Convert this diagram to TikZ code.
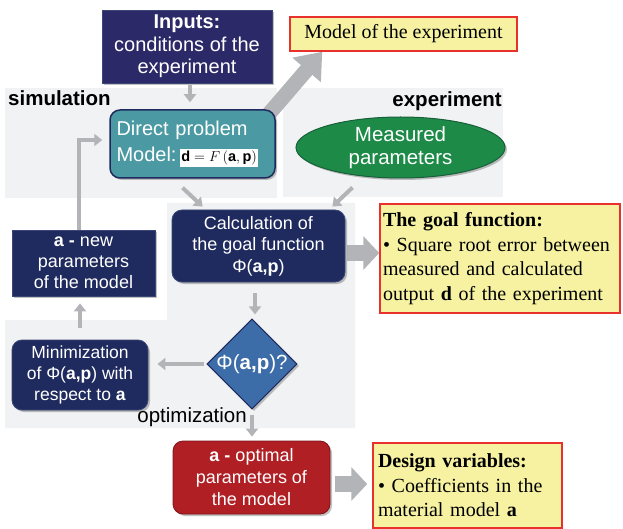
\documentclass[tikz,border=0pt]{standalone}
\usepackage{fontspec}
\setmainfont{Liberation Sans}
\newfontfamily\yellowfont{Liberation Serif}
\usetikzlibrary{shapes.geometric,arrows.meta,shadows,backgrounds}
\definecolor{inputsfill}{HTML}{2C2968}
\definecolor{navyfill}{HTML}{1F2B5E}
\definecolor{navyline}{HTML}{3A4676}
\definecolor{tealfill}{HTML}{4B9AA3}
\definecolor{measgreen}{HTML}{1D8B47}
\definecolor{greenline}{HTML}{17603A}
\definecolor{diamblue}{HTML}{3D6DA8}
\definecolor{optred}{HTML}{B01F24}
\definecolor{redline}{HTML}{E8302C}
\definecolor{yellowfill}{HTML}{F6F2A2}
\definecolor{arrowgray}{HTML}{B3B4B7}
\definecolor{regiongray}{HTML}{F1F2F3}
\newcommand{\mathpart}[1]{{\setlength{\fboxsep}{1.5pt}\colorbox{white}{\color{black}\fontsize{14.5}{15}\selectfont$#1$}}}

\begin{document}
\begin{tikzpicture}[x=1pt,y=-1pt,
  boxshadow/.style={drop shadow={shadow xshift=2pt,shadow yshift=-2pt,opacity=0.35,fill=black!70}},
  navybox/.style={fill=navyfill, draw=navyline, line width=0.8pt, text=white, rounded corners=10pt,
    align=center, inner sep=0pt, boxshadow},
  yellowbox/.style={fill=yellowfill, draw=redline, line width=1.5pt, text=black, inner sep=0pt,
    font=\yellowfont\fontsize{20}{24.5}\selectfont},
  sidelabel/.style={inner sep=0pt, font=\fontsize{20.5}{22}\selectfont},
  thinarrow/.style={draw=arrowgray, line width=4pt, -{Triangle[length=8pt,width=12pt]}},
  fatarrow/.style={draw=arrowgray, line width=16pt, -{Triangle[length=16pt,width=33pt]}}
]
\useasboundingbox (0,0) rectangle (623,529);

% boxes
\node[fill=inputsfill, draw=navyline, line width=0.8pt, text=white, align=center, inner sep=0pt,
  minimum width=170, minimum height=73, boxshadow, font=\fontsize{20}{22.5}\selectfont]
  (inputs) at (187,46.5) {\textbf{Inputs:}\\conditions of the\\experiment};
\node[yellowbox, minimum width=227, minimum height=34] (modelexp) at (403.5,34) {Model of the experiment};
\node[fill=tealfill, draw=navyfill, line width=1.5pt, text=white, rounded corners=10pt, inner sep=0pt,
  minimum width=165, minimum height=68, text width=152, align=left, boxshadow,
  font=\fontsize{20}{26}\selectfont]
  (direct) at (192.5,144) {Direct problem\\\mbox{Model:\,\mathpart{\mathbf{d}=F\,(\mathbf{a},\mathbf{p})}}};
\node[ellipse, fill=measgreen, draw=greenline, line width=1pt, text=white, align=center, inner sep=0pt,
  minimum width=209, minimum height=61, boxshadow, font=\fontsize{20.5}{23}\selectfont]
  (measured) at (400.5,147.5) {Measured\\parameters};
\node[navybox, minimum width=173, minimum height=72, font=\fontsize{18}{21.5}\selectfont]
  (calc) at (258.5,246) {Calculation of\\the goal function\\Φ(\textbf{a,p})};
\node[yellowbox, minimum width=240, minimum height=109, text width=234, align=left]
  (goal) at (500,258.5) {\textbf{The goal function:}\\\mbox{• Square root error between}\\measured and calculated\\output \textbf{d} of the experiment};
\node[navybox, rounded corners=0pt, minimum width=143, minimum height=66, font=\fontsize{18}{21}\selectfont]
  (anew) at (83.5,263) {\textbf{a -} new\\parameters\\of the model};
\node[navybox, minimum width=136, minimum height=70, font=\fontsize{17.5}{21}\selectfont]
  (minim) at (80,375) {Minimization\\of Φ(\textbf{a,p}) with\\respect to \textbf{a}};
\node[diamond, fill=diamblue, draw=navyfill, line width=1pt, text=white, inner sep=0pt, aspect=1,
  minimum width=90, minimum height=90, boxshadow, font=\fontsize{20.5}{22}\selectfont]
  (check) at (252,364) {Φ(\textbf{a,p})?};
\node[navybox, fill=optred, draw=optred!70!black, minimum width=157, minimum height=73,
  font=\fontsize{18}{22}\selectfont]
  (optimal) at (251.5,477.5) {\textbf{a -} optimal\\parameters of\\the model};
\node[yellowbox, minimum width=189, minimum height=85, text width=179, align=left]
  (design) at (467.5,485.5) {\textbf{Design variables:}\\• Coefficients in the\\material model \textbf{a}};

% region labels
\node[sidelabel, anchor=base west, font=\bfseries\fontsize{20.5}{22}\selectfont] (simlabel) at (8,106) {simulation};
\node[sidelabel, anchor=base east, font=\bfseries\fontsize{20.5}{22}\selectfont] (explabel) at (502,107) {experiment};
\node[sidelabel, anchor=base east] (optlabel) at (247,422) {optimization};

\begin{pgfonlayer}{background}
% regions
\fill[regiongray] (5,88) rectangle (277,198);
\fill[regiongray] (283,88) rectangle (503,197);
\fill[regiongray] (167,203) -- (355,203) -- (355,428) -- (5,428) -- (5,320) -- (167,320) -- cycle;
% connectors
\draw[thinarrow, shorten <=2pt, shorten >=7pt] ([xshift=3pt]inputs.south) -- ([xshift=3pt]inputs.south |- direct.north);
\draw[fatarrow, line width=15pt, -{Triangle[length=24pt,width=36pt]}] ([xshift=-8pt,yshift=-6pt]direct.north east) -- ([xshift=33pt]modelexp.south west);
\draw[thinarrow] ([xshift=-10pt,yshift=-9pt]direct.south) -- ([xshift=31pt,yshift=3pt]calc.north west);
\draw[thinarrow] ([xshift=-48pt,yshift=-9pt]measured.south) -- ([xshift=-13pt,yshift=3pt]calc.north east);
\draw[fatarrow, shorten <=2pt] ([yshift=-7pt]calc.east) -- ([yshift=-7pt]calc.east -| goal.west);
\draw[thinarrow, shorten <=11pt, shorten >=4pt] ([xshift=-3.5pt]calc.south) -- ([xshift=-3.5pt]calc.south |- check.north);
\draw[thinarrow, shorten <=2pt, shorten >=9pt] (check.west) -- (check.west -| minim.east);
\draw[thinarrow, shorten <=12pt, shorten >=7pt] (minim.north) -- (minim.north |- anew.south);
\draw[thinarrow, shorten >=7pt] ([xshift=-5pt]anew.north) |- ([yshift=4pt]direct.west);
\draw[thinarrow, shorten <=5pt, shorten >=4pt] (check.south) -- (check.south |- optimal.north);
\draw[fatarrow, shorten <=5pt, shorten >=5pt] ([yshift=-6.5pt]optimal.east) -- ([yshift=-6.5pt]optimal.east -| design.west);
\end{pgfonlayer}
\end{tikzpicture}
\end{document}
